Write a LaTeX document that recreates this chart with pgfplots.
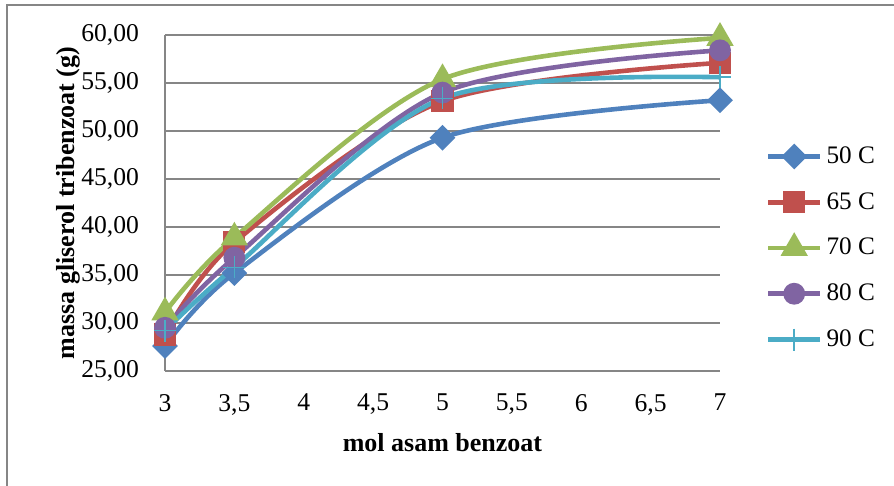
\documentclass[border=0pt]{standalone}
\usepackage{fontspec}
\setmainfont{Liberation Serif}
\usepackage{pgfplots}
\pgfplotsset{compat=1.18}
\definecolor{cA}{HTML}{4F81BD}
\definecolor{cB}{HTML}{C0504D}
\definecolor{cC}{HTML}{9BBB59}
\definecolor{cD}{HTML}{8064A2}
\definecolor{cE}{HTML}{4BACC6}
\definecolor{gridc}{HTML}{868686}
\begin{document}
\begin{tikzpicture}
\useasboundingbox (-82.5pt,-57.5pt) rectangle (364.5pt,185.5pt);
\draw[gridc, line width=1pt] (-79pt,-70pt) -- (-79pt,183pt) -- (380pt,183pt);
\begin{axis}[
  scale only axis, width=277.5pt, height=168pt,
  xmin=3, xmax=7, ymin=25, ymax=60,
  xtick={3,3.5,...,7}, ytick={25,30,...,60},
  axis x line*=bottom, axis y line*=left,
  ymajorgrids, major grid style={gridc, line width=0.7pt},
  axis line style={gridc, line width=0.7pt},
  major tick length=0pt,
  clip=false,
  tick label style={font=\fontsize{12.8}{14}\selectfont},
  /pgf/number format/assume math mode=true,
  yticklabel style={xshift=-9.5pt, /pgf/number format/.cd, fixed, fixed zerofill, precision=2, use comma},
  xticklabel style={yshift=-8pt, /pgf/number format/.cd, use comma, precision=1},
  xlabel={\textbf{mol asam benzoat}},
  ylabel={\textbf{massa gliserol tribenzoat (g)}},
  every axis x label/.style={at={(axis description cs:0.5,-0.214)}, anchor=center, font=\fontsize{13}{15}\selectfont},
  every axis y label/.style={at={(axis description cs:-0.1748,0.5)}, rotate=90, anchor=center, font=\fontsize{13}{15}\selectfont},
  legend style={at={(axis description cs:1.082,0.366)}, anchor=west, draw=none, fill=none,
    font=\fontsize{12.6}{14}\selectfont, row sep=9pt, inner sep=0pt},
  legend cell align=left,
  legend image code/.code={\draw[mark repeat=2,mark phase=2] plot coordinates {(0pt,0pt)(13pt,0pt)(26pt,0pt)};},
  every axis plot/.append style={line width=2.3pt, smooth, tension=0.5},
]
\addplot[cA, mark=square*, mark options={rotate=45, solid}, mark size=3.4pt] coordinates {(3,27.6) (3.5,35.2) (5,49.3) (7,53.2)};
\addlegendentry{50 C}
\addplot[cB, mark=square*, mark options={solid}, mark size=4.4pt] coordinates {(3,28.8) (3.5,38.4) (5,53.1) (7,57.1)};
\addlegendentry{65 C}
\addplot[cC, mark=triangle*, mark options={solid}, mark size=5.6pt] coordinates {(3,31.1) (3.5,38.9) (5,55.4) (7,59.7)};
\addlegendentry{70 C}
\addplot[cD, mark=*, mark options={solid}, mark size=4.3pt] coordinates {(3,29.5) (3.5,36.8) (5,54.0) (7,58.4)};
\addlegendentry{80 C}
\addplot[cE, mark=+, mark options={solid, line width=0.8pt}, mark size=5.5pt] coordinates {(3,29.2) (3.5,35.8) (5,53.4) (7,55.6)};
\addlegendentry{90 C}
\end{axis}
\end{tikzpicture}
\end{document}
